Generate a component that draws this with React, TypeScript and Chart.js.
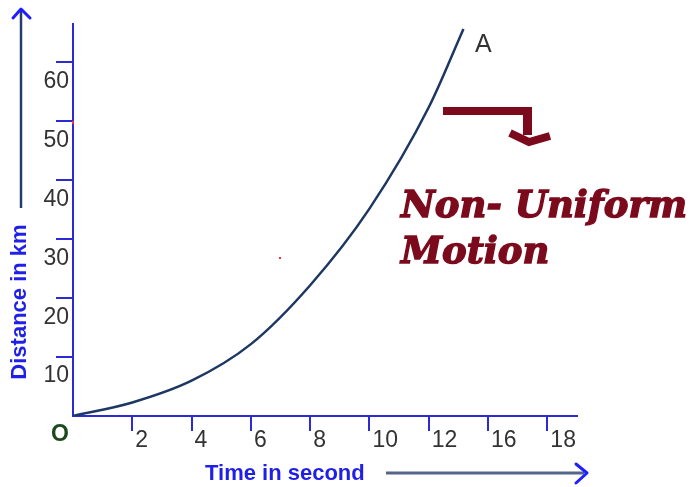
import React, { useEffect, useRef } from 'react';
import { Chart, registerables } from 'chart.js';

Chart.register(...registerables);

// ---- data ----
const timeSeconds = [0, 2, 4, 6, 8, 10, 12, 13.17];
const distanceKm = [0, 2.3, 6.0, 12.2, 22.2, 35.2, 52.4, 65.7];
const xTickValues = [2, 4, 6, 8, 10, 12, 14, 16];
const xTickLabels = ['2', '4', '6', '8', '10', '12', '16', '18'];
const yTickValues = [0, 10, 20, 30, 40, 50, 60];
const yTickLabels = ['O', '10', '20', '30', '40', '50', '60'];
const xAxisTitle = 'Time in second';
const yAxisTitle = 'Distance in km';
const curveLabel = 'A';
const noteLines = ['Non- Uniform', 'Motion'];

const AXIS_BLUE = '#2b2bd6';
const CURVE = '#1d3763';
const MAROON = '#7b0a1c';

const annotate = {
  id: 'annotate',
  afterDraw(chart: any) {
    const ctx: CanvasRenderingContext2D = chart.ctx;
    ctx.save();
    // vertical arrow
    ctx.strokeStyle = '#253d6c';
    ctx.lineWidth = 2.5;
    ctx.beginPath();
    ctx.moveTo(21, 208);
    ctx.lineTo(21, 9);
    ctx.stroke();
    ctx.strokeStyle = '#1e1eff';
    ctx.lineWidth = 3;
    ctx.lineCap = 'round';
    ctx.lineJoin = 'round';
    ctx.beginPath();
    ctx.moveTo(13, 18);
    ctx.lineTo(21, 9);
    ctx.lineTo(30, 18);
    ctx.stroke();

    // horizontal arrow
    ctx.strokeStyle = '#55668c';
    ctx.lineWidth = 3;
    ctx.lineCap = 'butt';
    ctx.beginPath();
    ctx.moveTo(386, 473);
    ctx.lineTo(584, 473);
    ctx.stroke();
    ctx.strokeStyle = '#1e1eff';
    ctx.lineCap = 'round';
    ctx.beginPath();
    ctx.moveTo(576, 464);
    ctx.lineTo(587, 473);
    ctx.lineTo(576, 483);
    ctx.stroke();

    // axis titles
    ctx.fillStyle = '#1f1fe8';
    ctx.font = 'bold 22px "Liberation Sans", Arial, sans-serif';
    ctx.textBaseline = 'middle';
    ctx.textAlign = 'left';
    ctx.fillText(xAxisTitle, 205, 474);
    ctx.save();
    ctx.translate(20, 302);
    ctx.rotate(-Math.PI / 2);
    ctx.textAlign = 'center';
    ctx.fillText(yAxisTitle, 0, 0);
    ctx.restore();

    // curve label
    ctx.fillStyle = '#333333';
    ctx.font = '25px "Liberation Sans", Arial, sans-serif';
    ctx.textAlign = 'left';
    ctx.textBaseline = 'alphabetic';
    ctx.fillText(curveLabel, 475, 52);

    // maroon hook arrow
    ctx.fillStyle = MAROON;
    ctx.fillRect(443, 107, 89, 8);
    ctx.fillRect(523, 107, 9, 28);
    ctx.strokeStyle = MAROON;
    ctx.lineWidth = 8;
    ctx.lineCap = 'butt';
    ctx.lineJoin = 'miter';
    ctx.beginPath();
    ctx.moveTo(510, 133);
    ctx.lineTo(529, 142);
    ctx.lineTo(550, 136);
    ctx.stroke();

    // note text
    ctx.fillStyle = MAROON;
    ctx.strokeStyle = MAROON;
    ctx.lineWidth = 1.4;
    ctx.font = 'italic bold 37px "DejaVu Serif", serif';
    ctx.textAlign = 'left';
    ctx.textBaseline = 'alphabetic';
    ctx.fillText(noteLines[0], 401, 217);
    ctx.strokeText(noteLines[0], 401, 217);
    ctx.fillText(noteLines[1], 401, 263);
    ctx.strokeText(noteLines[1], 401, 263);

    // small red specks
    ctx.fillStyle = '#ff3030';
    ctx.fillRect(72, 121, 2, 3);
    ctx.fillRect(279, 257, 2, 2);
    ctx.restore();
  },
};

export default function App() {
  const ref = useRef<HTMLCanvasElement | null>(null);

  useEffect(() => {
    if (!ref.current) return;
    const chart = new Chart(ref.current, {
      type: 'line',
      data: {
        datasets: [
          {
            data: timeSeconds.map((t, i) => ({ x: t, y: distanceKm[i] })),
            borderColor: CURVE,
            borderWidth: 2.5,
            pointRadius: 0,
            cubicInterpolationMode: 'monotone',
            fill: false,
          },
        ],
      },
      options: {
        animation: false,
        responsive: false,
        devicePixelRatio: 1,
        layout: { padding: { top: 23.6, right: 117, left: 0, bottom: 0 } },
        plugins: { legend: { display: false }, tooltip: { enabled: false }, title: { display: false } },
        scales: {
          x: {
            type: 'linear',
            min: 0,
            max: 17,
            afterBuildTicks: (s: any) => {
              s.ticks = xTickValues.map((v) => ({ value: v }));
            },
            afterFit: (s: any) => {
              s.height = 71;
              s.paddingLeft = 0;
              s.paddingRight = 0;
            },
            grid: {
              drawOnChartArea: false,
              drawTicks: true,
              tickLength: 15,
              tickWidth: 2,
              tickColor: AXIS_BLUE,
              color: AXIS_BLUE,
              lineWidth: 2,
            },
            border: { display: true, color: AXIS_BLUE, width: 2 },
            ticks: {
              autoSkip: false,
              maxRotation: 0,
              align: 'start',
              labelOffset: 3,
              padding: -4,
              color: '#333333',
              font: { family: '"Liberation Sans", Arial, sans-serif', size: 23 },
              callback: (v: any) => {
                const i = xTickValues.indexOf(Number(v));
                return i >= 0 ? xTickLabels[i] : '';
              },
            },
          },
          y: {
            type: 'linear',
            min: 0,
            max: 66.6,
            afterBuildTicks: (s: any) => {
              s.ticks = yTickValues.map((v) => ({ value: v }));
            },
            afterFit: (s: any) => {
              s.width = 73;
              s.paddingTop = 0;
              s.paddingBottom = 0;
            },
            grid: {
              drawOnChartArea: false,
              drawTicks: true,
              tickLength: 17,
              tickWidth: 2,
              tickColor: (c: any) => (c.tick && c.tick.value === 0 ? 'rgba(0,0,0,0)' : AXIS_BLUE),
              color: AXIS_BLUE,
              lineWidth: 2,
            },
            border: { display: true, color: AXIS_BLUE, width: 2 },
            ticks: {
              autoSkip: false,
              labelOffset: 19,
              padding: -13,
              color: (c: any) => (c.tick && c.tick.value === 0 ? '#1c4a1c' : '#333333'),
              font: (c: any) => ({
                family: '"Liberation Sans", Arial, sans-serif',
                size: 23,
                weight: c.tick && c.tick.value === 0 ? 'bold' : 'normal',
              }),
              callback: (v: any) => {
                const i = yTickValues.indexOf(Number(v));
                return i >= 0 ? yTickLabels[i] : '';
              },
            },
          },
        },
      },
      plugins: [annotate],
    } as any);
    return () => chart.destroy();
  }, []);

  return (
    <div style={{ position: 'absolute', left: 0, top: 0, width: 694, height: 487, background: '#ffffff' }}>
      <canvas ref={ref} width={694} height={487} />
    </div>
  );
}
